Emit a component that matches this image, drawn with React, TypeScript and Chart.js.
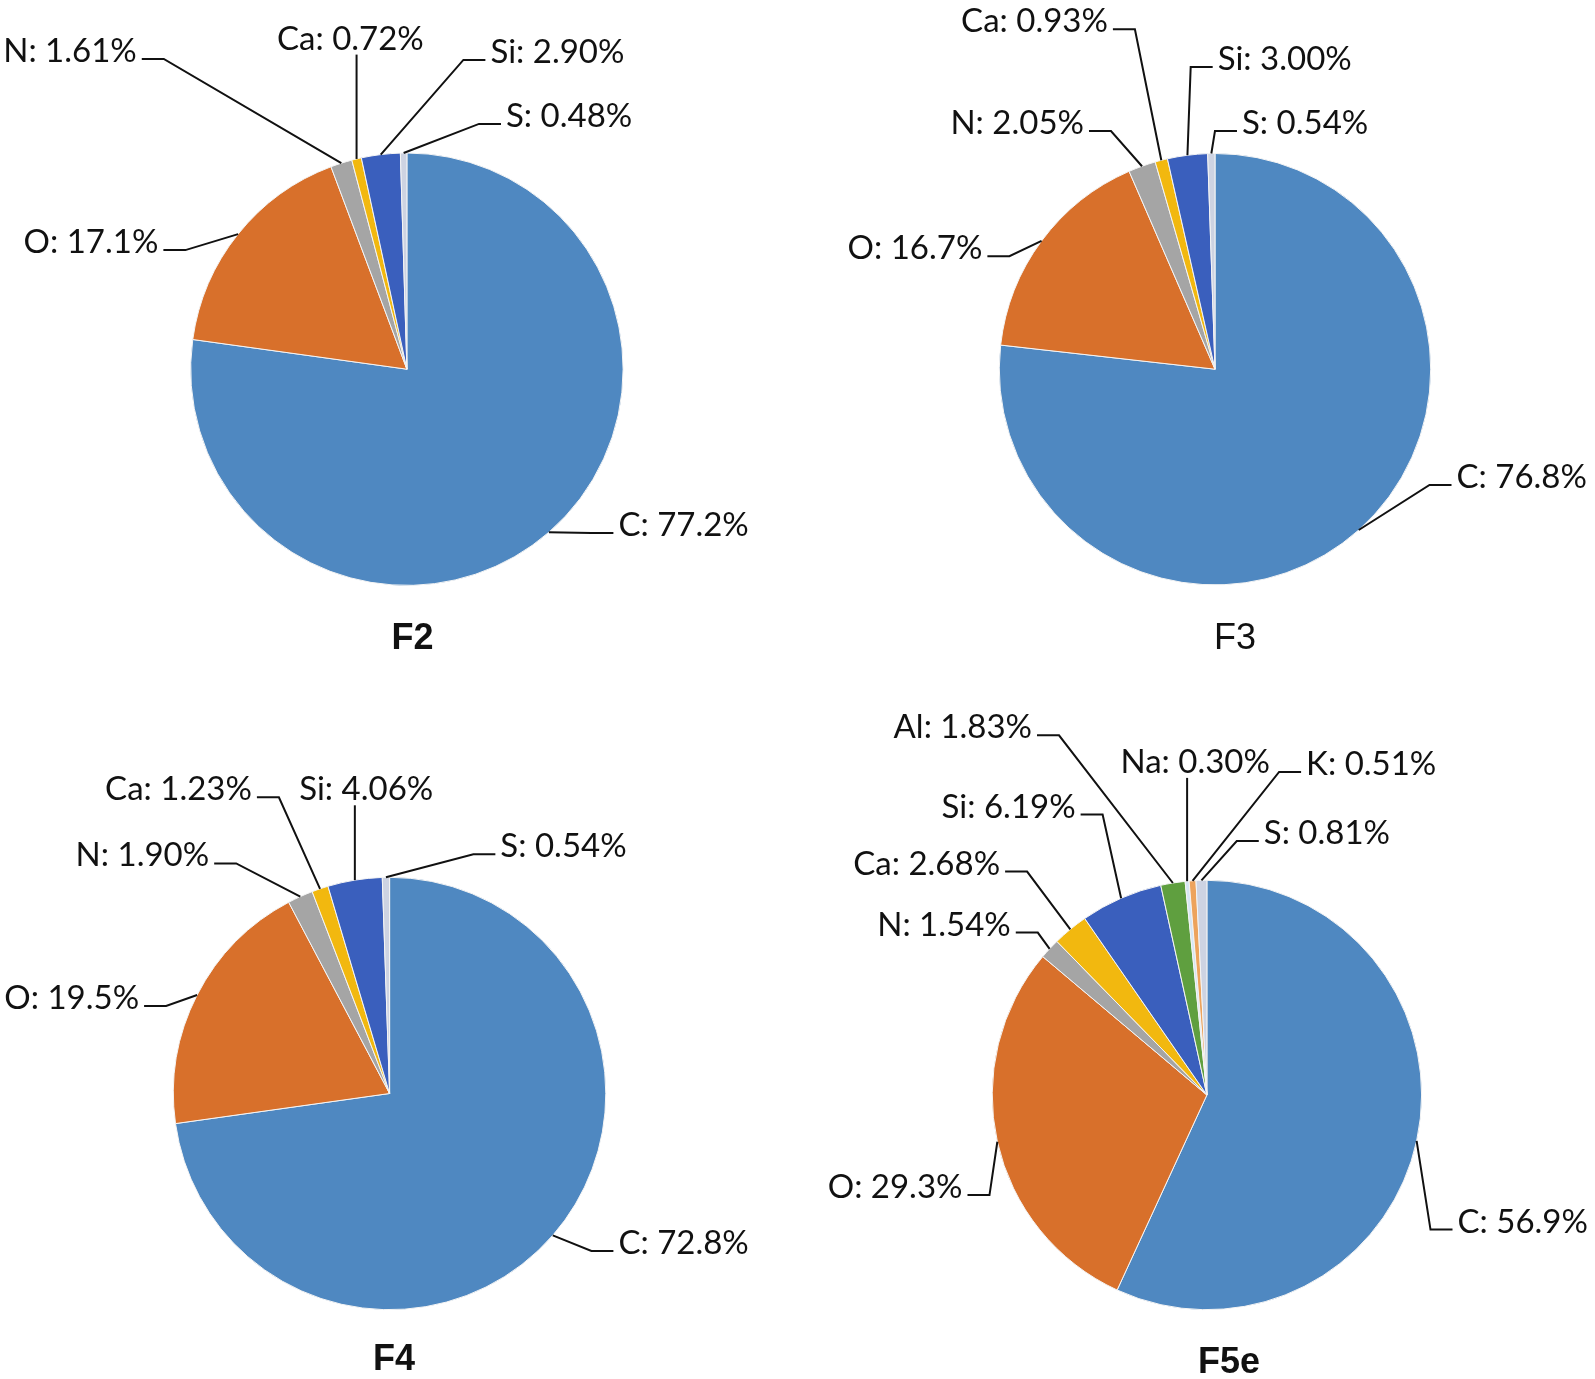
import React, { useEffect, useRef } from "react";
import { Chart, registerables } from "chart.js";

Chart.register(...registerables);

// ---------------- DATA ----------------
const elementsBasic = ["C", "O", "N", "Ca", "Si", "S"];
const elementsF5e = ["C", "O", "N", "Ca", "Si", "Al", "Na", "K", "S"];

const valuesF2 = [77.2, 17.1, 1.61, 0.72, 2.9, 0.48];
const valuesF3 = [76.8, 16.7, 2.05, 0.93, 3.0, 0.54];
const valuesF4 = [72.8, 19.5, 1.9, 1.23, 4.06, 0.54];
const valuesF5e = [56.9, 29.3, 1.54, 2.68, 6.19, 1.83, 0.3, 0.51, 0.81];

const chartTitles = ["F2", "F3", "F4", "F5e"];

// ---------------- STYLE / LAYOUT ----------------
const elementColors: Record<string, string> = {
  C: "#4f88c1",
  O: "#d8702b",
  N: "#a5a5a5",
  Ca: "#f2b80f",
  Si: "#3a5fbd",
  S: "#cdd3e2",
  Al: "#5f9f3f",
  Na: "#d6e6f4",
  K: "#eda35c",
};

const PAGE_W = 1595;
const PAGE_H = 1379;

// label centre offsets relative to pie centre (px), in slice order
const labelPosF2 = [
  [276.7, 154.7],
  [-315.9, -128.1],
  [-336.9, -319.2],
  [-56.5, -331.6],
  [150.5, -318.3],
  [162.2, -254.3],
];
const labelPosF3 = [
  [306.7, 106.8],
  [-300.0, -122.0],
  [-197.8, -247.1],
  [-180.5, -348.9],
  [69.7, -311.2],
  [90.1, -247.1],
];
const labelPosF4 = [
  [294.0, 148.5],
  [-317.9, -96.6],
  [-247.2, -239.1],
  [-211.1, -305.2],
  [-23.4, -305.2],
  [173.9, -248.2],
];
const labelPosF5e = [
  [315.8, 125.6],
  [-311.8, 91.1],
  [-262.9, -171.4],
  [-280.2, -232.4],
  [-198.3, -289.4],
  [-244.1, -368.7],
  [-11.7, -334.1],
  [164.3, -332.1],
  [120.0, -262.9],
];

interface PieSpec {
  labels: string[];
  values: number[];
  title: string;
  cx: number;
  cy: number;
  r: number;
  titleX: number;
  titleY: number;
  titleBold: boolean;
  labelPos: number[][];
}

const pies: PieSpec[] = [
  { labels: elementsBasic, values: valuesF2, title: chartTitles[0], cx: 406.9, cy: 369.2, r: 216.7, titleX: 412.5, titleY: 649, titleBold: true, labelPos: labelPosF2 },
  { labels: elementsBasic, values: valuesF3, title: chartTitles[1], cx: 1215.0, cy: 369.2, r: 216.2, titleX: 1235, titleY: 649, titleBold: false, labelPos: labelPosF3 },
  { labels: elementsBasic, values: valuesF4, title: chartTitles[2], cx: 389.6, cy: 1093.5, r: 216.7, titleX: 394, titleY: 1370, titleBold: true, labelPos: labelPosF4 },
  { labels: elementsF5e, values: valuesF5e, title: chartTitles[3], cx: 1206.9, cy: 1095.0, r: 215.2, titleX: 1229, titleY: 1373, titleBold: true, labelPos: labelPosF5e },
];

const LABEL_FONT = "33px Lato, 'Open Sans', sans-serif";
const TEXT_COLOR = "#111111";

function fmt(v: number): string {
  return (v >= 10 ? v.toFixed(1) : v.toFixed(2)) + "%";
}

function makeLeaderPlugin(spec: PieSpec) {
  return {
    id: "leaderLabels",
    afterDraw(chart: any) {
      const ctx: CanvasRenderingContext2D = chart.ctx;
      const meta = chart.getDatasetMeta(0);
      const data = chart.data.datasets[0].data as number[];
      const labels = chart.data.labels as string[];
      ctx.save();
      ctx.font = LABEL_FONT;
      ctx.fillStyle = TEXT_COLOR;
      ctx.strokeStyle = TEXT_COLOR;
      ctx.lineWidth = 2;
      ctx.lineJoin = "miter";
      ctx.textAlign = "center";
      ctx.textBaseline = "alphabetic";
      meta.data.forEach((arc: any, i: number) => {
        const p = arc.getProps(["x", "y", "startAngle", "endAngle", "outerRadius"], true);
        const mid = (p.startAngle + p.endAngle) / 2;
        const px = p.x + Math.cos(mid) * p.outerRadius;
        const py = p.y + Math.sin(mid) * p.outerRadius;
        const text = `${labels[i]}: ${fmt(data[i])}`;
        const w = ctx.measureText(text).width;
        const off = spec.labelPos[i];
        const tcx = p.x + off[0];
        const tcy = p.y + off[1];
        const left = tcx - w / 2;
        const right = tcx + w / 2;
        ctx.fillText(text, tcx, tcy + 12);
        const ty = tcy + 9;
        const gap = 5;
        const tail = 22;
        ctx.beginPath();
        if (px < left - gap) {
          ctx.moveTo(px, py);
          ctx.lineTo(left - gap - tail, ty);
          ctx.lineTo(left - gap, ty);
        } else if (px > right + gap) {
          ctx.moveTo(px, py);
          ctx.lineTo(right + gap + tail, ty);
          ctx.lineTo(right + gap, ty);
        } else {
          ctx.moveTo(px, py);
          ctx.lineTo(px, tcy + 17);
        }
        ctx.stroke();
      });
      ctx.font = `${spec.titleBold ? "bold " : ""}36px 'Liberation Sans', Arial, sans-serif`;
      ctx.fillStyle = "#111111";
      ctx.textAlign = "center";
      ctx.fillText(spec.title, spec.titleX, spec.titleY);
      ctx.restore();
    },
  };
}

function PieCanvas({ spec }: { spec: PieSpec }) {
  const ref = useRef<HTMLCanvasElement | null>(null);
  useEffect(() => {
    if (!ref.current) return;
    const chart = new Chart(ref.current, {
      type: "pie",
      data: {
        labels: spec.labels,
        datasets: [
          {
            data: spec.values,
            backgroundColor: spec.labels.map((l) => elementColors[l]),
            borderColor: "#f4f4f4",
            borderWidth: 1,
          },
        ],
      },
      options: {
        responsive: false,
        animation: false,
        layout: {
          padding: {
            left: spec.cx - spec.r,
            top: spec.cy - spec.r,
            right: PAGE_W - spec.cx - spec.r,
            bottom: PAGE_H - spec.cy - spec.r,
          },
        },
        plugins: {
          legend: { display: false },
          tooltip: { enabled: false },
          title: { display: false },
        },
      },
      plugins: [makeLeaderPlugin(spec)],
    } as any);
    return () => chart.destroy();
  }, [spec]);
  return (
    <canvas
      ref={ref}
      width={PAGE_W}
      height={PAGE_H}
      style={{ position: "absolute", left: 0, top: 0, width: PAGE_W, height: PAGE_H, display: "block" }}
    />
  );
}

export default function App() {
  return (
    <div style={{ position: "absolute", left: 0, top: 0, width: PAGE_W, height: PAGE_H, background: "#ffffff", overflow: "hidden" }}>
      {pies.map((s) => (
        <PieCanvas key={s.title} spec={s} />
      ))}
    </div>
  );
}
